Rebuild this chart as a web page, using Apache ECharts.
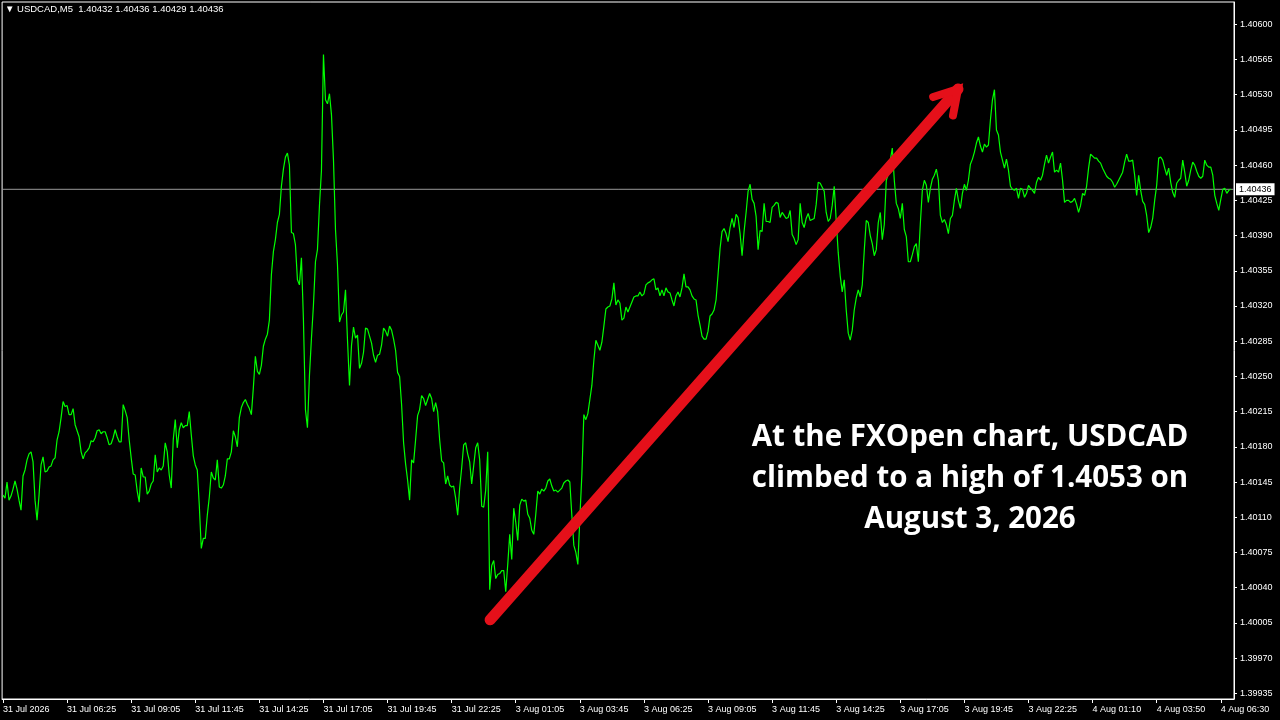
<!DOCTYPE html>
<html><head><meta charset="utf-8">
<script src="https://cdn.jsdelivr.net/npm/echarts@6/dist/echarts.min.js"></script>
<style>html,body{margin:0;padding:0;background:#000}#c{width:1280px;height:720px}</style>
</head><body><div id="c"></div><script>
const symbolName = 'USDCAD,M5';
const lastBarOHLC = [1.40432, 1.40436, 1.40429, 1.40436];
const timeLabels = ['31 Jul 2026','31 Jul 06:25','31 Jul 09:05','31 Jul 11:45','31 Jul 14:25','31 Jul 17:05','31 Jul 19:45','31 Jul 22:25','3 Aug 01:05','3 Aug 03:45','3 Aug 06:25','3 Aug 09:05','3 Aug 11:45','3 Aug 14:25','3 Aug 17:05','3 Aug 19:45','3 Aug 22:25','4 Aug 01:10','4 Aug 03:50','4 Aug 06:30'];
const barsPerLabel = 32;
const yTickValues = [1.39935,1.39970,1.40005,1.40040,1.40075,1.40110,1.40145,1.40180,1.40215,1.40250,1.40285,1.40320,1.40355,1.40390,1.40425,1.40460,1.40495,1.40530,1.40565,1.40600];
const currentPrice = 1.40436;

const closes31Jul = [
1.40132,1.40129,1.40145,1.40127,1.40131,1.40138,1.40146,1.40138,1.40127,1.40117,
1.40151,1.40157,1.40167,1.40173,1.40175,1.40165,1.40127,1.40107,1.40132,1.40162,
1.40170,1.40155,1.40156,1.40160,1.40161,1.40167,1.40169,1.40187,1.40195,1.40209,
1.40225,1.40220,1.40221,1.40212,1.40212,1.40218,1.40202,1.40196,1.40190,1.40175,
1.40168,1.40174,1.40176,1.40179,1.40186,1.40185,1.40189,1.40196,1.40197,1.40193,
1.40195,1.40195,1.40189,1.40182,1.40183,1.40189,1.40197,1.40190,1.40185,1.40185,
1.40222,1.40216,1.40209,1.40187,1.40169,1.40153,1.40152,1.40136,1.40125,1.40159,
1.40150,1.40150,1.40133,1.40136,1.40143,1.40146,1.40172,1.40155,1.40159,1.40157,
1.40161,1.40184,1.40175,1.40152,1.40139,1.40187,1.40207,1.40179,1.40197,1.40204,
1.40199,1.40201,1.40201,1.40215,1.40192,1.40171,1.40162,1.40157,1.40122,1.40079,
1.40089,1.40089,1.40112,1.40130,1.40155,1.40149,1.40147,1.40167,1.40140,1.40139,
1.40142,1.40151,1.40168,1.40168,1.40175,1.40196,1.40190,1.40180,1.40209,1.40219,
1.40224,1.40227,1.40222,1.40218,1.40212,1.40239,1.40270,1.40255,1.40252,1.40261,
1.40280,1.40287,1.40292,1.40306,1.40351,1.40374,1.40386,1.40403,1.40411,1.40439,
1.40456,1.40468,1.40472,1.40460,1.40393,1.40392,1.40381,1.40346,1.40341,1.40368,
1.40306,1.40217,1.40199,1.40251,1.40288,1.40321,1.40364,1.40376,1.40420,1.40455,
1.40570,1.40525,1.40521,1.40531,1.40510,1.40465,1.40396,1.40361,1.40304,1.40311,
1.40314,1.40336,1.40286,1.40241,1.40281,1.40299,1.40288,1.40291,1.40258,1.40263,
1.40274,1.40298,1.40297,1.40290,1.40283,1.40271,1.40264,1.40271,1.40272,1.40281,
1.40298,1.40295,1.40290,1.40300,1.40296,1.40287,1.40276,1.40254,1.40250,1.40222,
1.40184,1.40163,1.40147,1.40127,1.40167,1.40164,1.40187,1.40211,1.40217,1.40231,
1.40228,1.40221,1.40227,1.40233,1.40228,1.40215,1.40224,1.40215,1.40187,1.40166,
1.40164,1.40143,1.40151,1.40142,1.40140,1.40141,1.40129,1.40112,1.40139,1.40159,
1.40182,1.40184,1.40173,1.40165,1.40143,1.40161,1.40179,1.40184,1.40167,1.40121,
1.40120,1.40137,1.40175
];

const closes3Aug = [
1.40038,1.40062,1.40067,1.40049,1.40053,1.40054,1.40057,
1.40057,1.40036,1.40063,1.40093,1.40068,1.40119,1.40105,1.40087,1.40122,1.40128,
1.40126,1.40127,1.40113,1.40109,1.40097,1.40093,1.40113,1.40136,1.40133,1.40138,
1.40136,1.40139,1.40146,1.40148,1.40141,1.40136,1.40137,1.40135,1.40137,1.40139,
1.40144,1.40146,1.40147,1.40145,1.40112,1.40082,1.40075,1.40063,1.40109,1.40152,
1.40212,1.40207,1.40213,1.40227,1.40241,1.40266,1.40286,1.40281,1.40276,1.40284,
1.40300,1.40317,1.40319,1.40320,1.40327,1.40343,1.40321,1.40326,1.40323,1.40306,
1.40308,1.40319,1.40314,1.40319,1.40324,1.40329,1.40330,1.40330,1.40334,1.40330,
1.40332,1.40341,1.40343,1.40344,1.40346,1.40347,1.40336,1.40338,1.40330,1.40336,
1.40330,1.40338,1.40334,1.40333,1.40326,1.40320,1.40330,1.40334,1.40329,1.40338,
1.40352,1.40339,1.40339,1.40336,1.40330,1.40327,1.40326,1.40311,1.40301,1.40290,
1.40287,1.40287,1.40295,1.40310,1.40312,1.40316,1.40326,1.40351,1.40377,1.40394,
1.40397,1.40392,1.40384,1.40398,1.40407,1.40398,1.40411,1.40408,1.40392,1.40370,
1.40394,1.40413,1.40434,1.40441,1.40426,1.40422,1.40409,1.40376,1.40395,1.40394,
1.40422,1.40404,1.40404,1.40403,1.40418,1.40420,1.40423,1.40422,1.40408,1.40413,
1.40410,1.40407,1.40408,1.40415,1.40391,1.40387,1.40381,1.40386,1.40422,1.40403,
1.40398,1.40407,1.40412,1.40405,1.40406,1.40407,1.40421,1.40443,1.40442,1.40438,
1.40434,1.40413,1.40404,1.40407,1.40420,1.40439,1.40405,1.40373,1.40350,1.40334,
1.40346,1.40316,1.40293,1.40286,1.40296,1.40316,1.40328,1.40336,1.40329,1.40341,
1.40375,1.40405,1.40403,1.40390,1.40382,1.40370,1.40376,1.40403,1.40413,1.40386,
1.40401,1.40445,1.40451,1.40465,1.40477,1.40445,1.40422,1.40417,1.40407,1.40422,
1.40396,1.40389,1.40364,1.40364,1.40371,1.40379,1.40382,1.40364,1.40402,1.40435,
1.40445,1.40440,1.40423,1.40437,1.40446,1.40450,1.40456,1.40445,1.40410,1.40403,
1.40406,1.40401,1.40392,1.40407,1.40410,1.40425,1.40437,1.40425,1.40417,1.40432,
1.40441,1.40435,1.40445,1.40461,1.40466,1.40473,1.40482,1.40488,1.40479,1.40473,
1.40481,1.40478,1.40480,1.40505,1.40525,1.40535,1.40495,1.40490,1.40473,1.40465,
1.40457,1.40466,1.40455,1.40439,1.40436,1.40435,1.40437,1.40427,1.40437,1.40436,
1.40428,1.40432,1.40440,1.40437,1.40435,1.40432,1.40443,1.40448,1.40445,1.40450,
1.40461,1.40470,1.40462,1.40468,1.40473,1.40453,1.40455,1.40453,1.40462,1.40445,
1.40423
];

const closes4Aug = [
1.40425,1.40425,1.40423,1.40424,1.40427,1.40421,1.40413,1.40420,1.40432,
1.40430,1.40439,1.40457,1.40471,1.40469,1.40467,1.40467,1.40464,1.40462,1.40457,
1.40453,1.40449,1.40447,1.40446,1.40443,1.40438,1.40441,1.40445,1.40449,1.40453,
1.40463,1.40471,1.40464,1.40464,1.40465,1.40450,1.40430,1.40450,1.40435,1.40424,
1.40421,1.40410,1.40393,1.40398,1.40407,1.40425,1.40440,1.40467,1.40468,1.40465,
1.40457,1.40450,1.40457,1.40443,1.40433,1.40428,1.40442,1.40445,1.40447,1.40465,
1.40453,1.40439,1.40445,1.40455,1.40463,1.40460,1.40454,1.40449,1.40447,1.40449,
1.40465,1.40460,1.40458,1.40458,1.40450,1.40430,1.40422,1.40415,1.40426,1.40436,
1.40437,1.40432,1.40435,1.40436
];

// annotation arrow, in chart coordinates [bar index, price]
const arrowShaft = [[243.2, 1.40008], [476.8, 1.405357]];
const arrowHead = [[464.4, 1.405277], [476.8, 1.405357], [474.3, 1.405093]];
const noteLines = ['At the FXOpen chart, USDCAD', 'climbed to a high of 1.4053 on', 'August 3, 2026'];

const closes = closes31Jul.concat(closes3Aug, closes4Aug);
const lineData = closes.map((v, i) => [i, v]);
const xTicks = timeLabels.map((_, k) => k * barsPerLabel);
const X_MIN = -0.45, X_MAX = 614.6;
const priceLineData = [[X_MIN, currentPrice], [X_MAX, currentPrice]];

const FONT = 'Liberation Sans';
const ARROW_RED = '#e5101a';
const chart = echarts.init(document.getElementById('c'), null, {renderer: 'canvas'});
chart.setOption({
  backgroundColor: '#000',
  animation: false,
  title: {
    text: '\u25BC ' + symbolName + '  ' + lastBarOHLC.map(v => v.toFixed(5)).join(' '),
    left: 5, top: 4, padding: 0,
    textStyle: {color: '#fff', fontSize: 9.5, fontWeight: 'normal', fontFamily: FONT}
  },
  grid: {left: 2, top: 2, right: 46, bottom: 21, show: true, borderColor: '#fff', borderWidth: 1, backgroundColor: 'transparent'},
  xAxis: {
    type: 'value', min: X_MIN, max: X_MAX,
    axisLine: {show: true, onZero: false, lineStyle: {color: '#fff', width: 1}},
    axisTick: {show: true, customValues: xTicks, length: 4, lineStyle: {color: '#fff'}},
    axisLabel: {
      customValues: xTicks,
      formatter: v => timeLabels[Math.round(v / barsPerLabel)],
      color: '#fff', fontFamily: FONT, fontSize: 9, align: 'left', margin: 6
    },
    splitLine: {show: false}
  },
  yAxis: {
    type: 'value', position: 'right', min: 1.399293, max: 1.406222,
    axisLine: {show: true, onZero: false, lineStyle: {color: '#fff', width: 1}},
    axisTick: {show: true, customValues: yTickValues, length: 3, lineStyle: {color: '#fff'}},
    axisLabel: {
      customValues: yTickValues,
      formatter: v => v.toFixed(5),
      color: '#fff', fontFamily: FONT, fontSize: 9, margin: 6
    },
    splitLine: {show: false}
  },
  series: [
    {
      type: 'line', data: priceLineData, showSymbol: false, symbol: 'none', silent: true, z: 2,
      lineStyle: {color: '#9a9a9a', width: 1},
      endLabel: {
        show: true, distance: 2,
        formatter: () => currentPrice.toFixed(5),
        backgroundColor: '#fff', color: '#000', fontFamily: FONT, fontSize: 9,
        padding: [2, 3, 1, 3]
      }
    },
    {
      type: 'line', data: lineData, showSymbol: false, symbol: 'none', silent: true,
      lineStyle: {color: '#00ff00', width: 1.2}, z: 3
    },
    {
      type: 'line', data: arrowShaft, showSymbol: false, symbol: 'none', silent: true, z: 5,
      lineStyle: {color: ARROW_RED, width: 11, cap: 'round'}
    },
    {
      type: 'line', data: arrowHead, showSymbol: false, symbol: 'none', silent: true, z: 5,
      lineStyle: {color: ARROW_RED, width: 8, cap: 'round', join: 'miter', miterLimit: 10}
    }
  ],
  graphic: [{
    type: 'text', x: 970, y: 479, z: 10, silent: true,
    style: {
      text: noteLines.join('\n'), fill: '#fff',
      font: 'bold 29.5px "Open Sans"', align: 'center', verticalAlign: 'middle', lineHeight: 41
    }
  }]
});
</script></body></html>
